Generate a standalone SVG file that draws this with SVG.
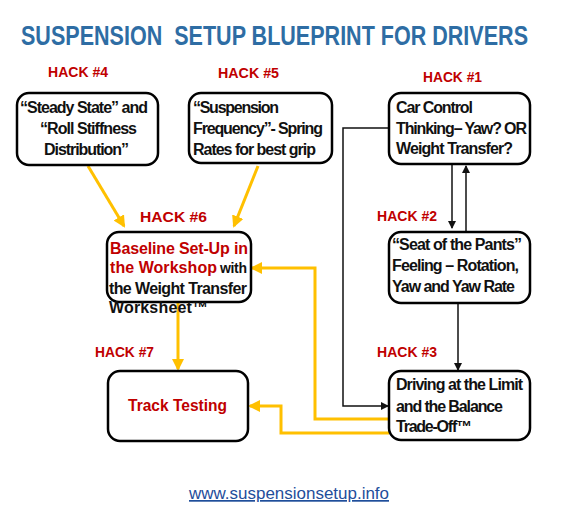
<svg xmlns="http://www.w3.org/2000/svg" width="568" height="516" viewBox="0 0 568 516">
<style>
.box{fill:#fff;stroke:#000;stroke-width:2.5}
.t{font-family:"Liberation Sans",Arial,sans-serif;font-weight:bold;font-size:16px;fill:#111}
.hack{font-family:"Liberation Sans",Arial,sans-serif;font-weight:bold;font-size:15px;fill:#C00000}
.red{fill:#C00000}
.k{fill:none;stroke:#111;stroke-width:1.5}
.y{fill:none;stroke:#FFC000;stroke-width:3}
</style>
<defs>
<marker id="ak" markerWidth="8" markerHeight="8" refX="7" refY="4" orient="auto" markerUnits="userSpaceOnUse"><path d="M0,0 L8,4 L0,8 z" fill="#111"/></marker>
<marker id="ay" markerWidth="12" markerHeight="12" refX="10" refY="6" orient="auto" markerUnits="userSpaceOnUse"><path d="M0,0 L12,6 L0,12 z" fill="#FFC000"/></marker>
</defs>
<rect width="568" height="516" fill="#fff"/>
<g transform="translate(21,45) scale(0.75,1)">
<text x="0" y="0" font-family="'Liberation Sans',Arial,sans-serif" font-weight="bold" font-size="27" fill="#2E6DA4" textLength="676" lengthAdjust="spacingAndGlyphs">SUSPENSION&#160; SETUP BLUEPRINT FOR DRIVERS</text>
</g>
<g id="labels">
<text class="hack" x="48" y="77" textLength="60" lengthAdjust="spacingAndGlyphs">HACK #4</text>
<text class="hack" x="218" y="78" textLength="61" lengthAdjust="spacingAndGlyphs">HACK #5</text>
<text class="hack" x="423" y="82" textLength="59" lengthAdjust="spacingAndGlyphs">HACK #1</text>
<text class="hack" x="377" y="221" textLength="60" lengthAdjust="spacingAndGlyphs">HACK #2</text>
<text class="hack" x="377" y="357" textLength="60" lengthAdjust="spacingAndGlyphs">HACK #3</text>
<text class="hack" x="95" y="357" textLength="59" lengthAdjust="spacingAndGlyphs">HACK #7</text>
<text class="hack" x="140" y="222" font-size="17" textLength="67" lengthAdjust="spacingAndGlyphs">HACK #6</text>
</g>
<g id="connectors">
<path class="k" d="M452,164 V228" marker-end="url(#ak)"/>
<path class="k" d="M466,232 V166" marker-end="url(#ak)"/>
<path class="k" d="M458,303 V370" marker-end="url(#ak)"/>
<path class="k" d="M389,128 H343 V406 H388" marker-end="url(#ak)"/>
<path class="y" d="M88,166 L124,226" marker-end="url(#ay)"/>
<path class="y" d="M258,166 L234,226" marker-end="url(#ay)"/>
<path class="y" d="M178,303 V369" marker-end="url(#ay)"/>
<path class="y" d="M389,419 H315 V268 H252" marker-end="url(#ay)"/>
<path class="y" d="M389,433 H281 V406 H250" marker-end="url(#ay)"/>
</g>
<g id="n4">
<rect class="box" x="17" y="93" width="141" height="72" rx="12"/>
<text class="t" lengthAdjust="spacingAndGlyphs"><tspan x="20" y="113" textLength="128">“Steady State” and</tspan><tspan x="40" y="134" textLength="97">“Roll Stiffness</tspan><tspan x="44" y="155" textLength="85">Distribution”</tspan></text>
</g>
<g id="n5">
<rect class="box" x="189" y="93" width="143" height="70" rx="12"/>
<text class="t" lengthAdjust="spacingAndGlyphs"><tspan x="193" y="113" textLength="86">“Suspension</tspan><tspan x="193" y="134" textLength="130">Frequency”- Spring</tspan><tspan x="193" y="155" textLength="123">Rates for best grip</tspan></text>
</g>
<g id="n1">
<rect class="box" x="389" y="93" width="141" height="71" rx="12"/>
<text class="t" lengthAdjust="spacingAndGlyphs"><tspan x="396" y="113" textLength="77">Car Control</tspan><tspan x="396" y="134" textLength="131">Thinking– Yaw? OR</tspan><tspan x="396" y="154" textLength="117">Weight Transfer?</tspan></text>
</g>
<g id="n2">
<rect class="box" x="389" y="232" width="141" height="71" rx="12"/>
<text class="t" lengthAdjust="spacingAndGlyphs"><tspan x="392" y="250" textLength="130">“Seat of the Pants”</tspan><tspan x="392" y="271" textLength="127">Feeling – Rotation,</tspan><tspan x="392" y="292" textLength="123">Yaw and Yaw Rate</tspan></text>
</g>
<g id="n6">
<rect class="box" x="107" y="232" width="144" height="70" rx="12"/>
<text class="t" font-size="17" lengthAdjust="spacingAndGlyphs"><tspan class="red" x="110" y="254" textLength="138">Baseline Set-Up in</tspan><tspan class="red" x="110" y="273" textLength="107">the Workshop</tspan><tspan x="220" y="273" font-size="14" textLength="27">with</tspan><tspan x="109" y="294" font-size="16" textLength="138">the Weight Transfer</tspan><tspan x="109" y="313" font-size="16" textLength="99">Worksheet™</tspan></text>
</g>
<g id="n7">
<rect class="box" x="108" y="371" width="140" height="70" rx="12"/>
<text class="t red" x="128" y="411" font-size="17" textLength="99" lengthAdjust="spacingAndGlyphs">Track Testing</text>
</g>
<g id="n3">
<rect class="box" x="389" y="371" width="141" height="69" rx="12"/>
<text class="t" lengthAdjust="spacingAndGlyphs"><tspan x="396" y="390" textLength="127">Driving at the Limit</tspan><tspan x="396" y="412" textLength="107">and the Balance</tspan><tspan x="396" y="432" textLength="76">Trade-Off™</tspan></text>
</g>
<text x="189" y="499" font-family="'Liberation Sans',Arial,sans-serif" font-size="17" fill="#1F4E9B" text-decoration="underline" textLength="200" lengthAdjust="spacingAndGlyphs">www.suspensionsetup.info</text>
</svg>
